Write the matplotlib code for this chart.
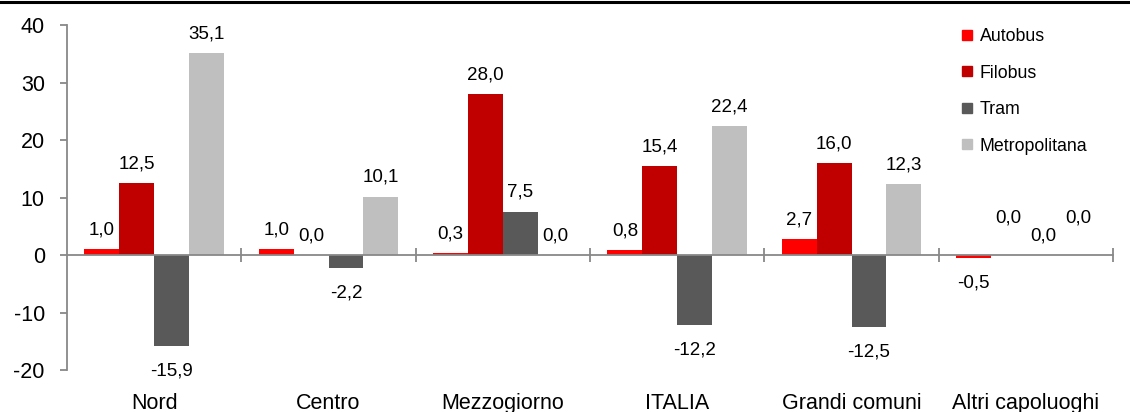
import numpy as np
import matplotlib.pyplot as plt
import matplotlib.transforms as mtransforms
from matplotlib.lines import Line2D

plt.rcParams['font.family'] = ['Liberation Sans', 'DejaVu Sans']
plt.rcParams['axes.unicode_minus'] = False

# Variazioni percentuali per tipo di mezzo e ripartizione
categorie = ['Nord', 'Centro', 'Mezzogiorno', 'ITALIA', 'Grandi comuni', 'Altri capoluoghi']
autobus = [1.0, 1.0, 0.3, 0.8, 2.7, -0.5]
filobus = [12.5, 0.0, 28.0, 15.4, 16.0, 0.0]
tram = [-15.9, -2.2, 7.5, -12.2, -12.5, 0.0]
metropolitana = [35.1, 10.1, 0.0, 22.4, 12.3, 0.0]

serie = ['Autobus', 'Filobus', 'Tram', 'Metropolitana']
colori = ['#ff0000', '#c00000', '#595959', '#bfbfbf']
grigio = '#888888'

# etichette spostate a mano per non sovrapporsi: (serie, categoria) -> punti in più
spostamenti = {(1, 5): 13, (3, 5): 13}

fig = plt.figure(figsize=(11.3, 4.12), dpi=100)
ax = fig.add_axes([0.0593, 0.1019, 0.9257, 0.8374])

x = np.arange(len(categorie))
larghezza = 0.2
for i, valori in enumerate([autobus, filobus, tram, metropolitana]):
    pos = x + (i - 1.5) * larghezza
    ax.bar(pos, valori, larghezza, color=colori[i], zorder=2)
    for j, v in enumerate(valori):
        dy = 14 if v >= 0 else -18
        dy += spostamenti.get((i, j), 0)
        ax.annotate(f'{v:.1f}'.replace('.', ','), (pos[j], v), xytext=(0, dy),
                    textcoords='offset points', ha='center', va='center', fontsize=13.5)

ax.set_xlim(-0.5, 5.5)
ax.set_ylim(-20, 40)
ax.set_yticks(range(-20, 41, 10))

ax.spines['top'].set_visible(False)
ax.spines['right'].set_visible(False)
ax.spines['left'].set_color(grigio)
ax.spines['left'].set_linewidth(1.3)
ax.spines['bottom'].set_position(('data', 0))
ax.spines['bottom'].set_color(grigio)
ax.spines['bottom'].set_linewidth(1.3)
ax.spines['bottom'].set_zorder(3)

# tacche solo tra un gruppo e l'altro
ax.set_xticks(x)
ax.set_xticklabels([])
ax.set_xticks(list(x[1:] - 0.5) + [5.5], minor=True)
ax.tick_params(axis='x', which='major', length=0)
ax.tick_params(axis='x', which='minor', direction='inout', length=10, width=1.3, color=grigio)
ax.tick_params(axis='y', length=5, width=1.3, color=grigio, labelsize=15.5, pad=11)

# nomi delle ripartizioni sotto il grafico
trans = mtransforms.blended_transform_factory(ax.transData, ax.transAxes)
for xi, nome in zip(x, categorie):
    ax.text(xi, -0.113, nome, transform=trans, ha='center', va='baseline', fontsize=15.5)

maniglie = [Line2D([], [], marker='s', linestyle='none', markersize=7,
                   markerfacecolor=c, markeredgecolor=c, label=s)
            for s, c in zip(serie, colori)]
ax.legend(handles=maniglie, loc='upper left', bbox_to_anchor=(0.8504, 0.9321),
          bbox_transform=fig.transFigure, frameon=False, fontsize=12.8,
          labelspacing=1.1, handlelength=0.7, handletextpad=0.35,
          borderpad=0, borderaxespad=0)

# riga nera in testa
fig.add_artist(Line2D([0, 1], [0.994, 0.994], color='black', linewidth=2.2,
                      transform=fig.transFigure))

plt.savefig('out.png', dpi=100)
